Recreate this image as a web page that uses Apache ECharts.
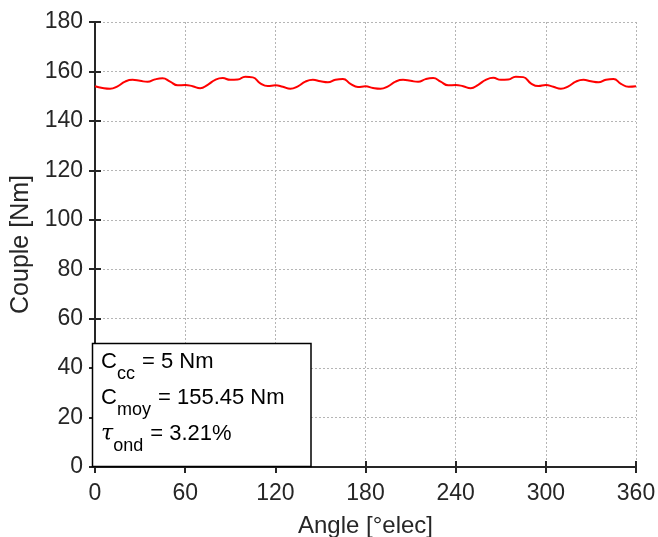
<!DOCTYPE html>
<html><head><meta charset="utf-8">
<script src="https://cdn.jsdelivr.net/npm/echarts@6/dist/echarts.min.js"></script>
<style>html,body{margin:0;padding:0;background:#fff}#c{width:658px;height:537px}</style>
</head><body><div id="c"></div>
<script>
const angles = [0,5,10,15,20,25,30,35,40,45,50,55,60,65,70,75,80,85,90,95,100,105,110,115,120,125,130,135,140,145,150,155,160,165,170,175,180,185,190,195,200,205,210,215,220,225,230,235,240,245,250,255,260,265,270,275,280,285,290,295,300,305,310,315,320,325,330,335,340,345,350,355,360];
const couple = [
  154.0,153.3,153.0,154.0,155.9,156.6,156.2,155.8,156.8,157.2,155.9,154.4,154.5,
  154.0,153.2,154.6,156.6,157.3,156.6,156.7,157.9,157.6,155.2,154.1,154.4,
  153.8,153.0,154.0,155.9,156.6,156.0,155.6,156.6,156.9,155.0,153.7,154.0,
  153.3,153.0,154.0,155.9,156.6,156.2,155.8,156.9,157.3,155.9,154.4,154.5,
  154.0,153.2,154.6,156.6,157.4,156.6,156.7,157.9,157.7,155.2,154.1,154.5,
  153.8,153.0,154.0,155.9,156.6,156.0,155.6,156.6,156.9,155.0,153.8,154.0
];
const xTicks = [0,60,120,180,240,300,360];
const yTicks = [0,20,40,60,80,100,120,140,160,180];
const xName = 'Angle [°elec]';
const yName = 'Couple [Nm]';
const annot = [
  ['C','cc',' = 5 Nm'],
  ['C','moy',' = 155.45 Nm'],
  ['τ','ond',' = 3.21%']
];

const FONT = '"Liberation Sans", Arial, Helvetica, sans-serif';
const TXT = '#262626';
const chart = echarts.init(document.getElementById('c'), null, {renderer:'canvas'});
const axisLine = {show:true, lineStyle:{color:TXT, width:2}};
const gridLine = {show:true, lineStyle:{color:'#b5b5b5', type:[2,2], width:1}};
const mkX = (pos, showLab) => ({
  type:'value', position:pos, min:xTicks[0], max:xTicks[xTicks.length-1], interval:60,
  axisLine, axisTick:{show:true, inside:true, length:6, lineStyle:{color:TXT,width:2}},
  axisLabel:{show:showLab, color:TXT, fontSize:23, fontFamily:FONT, margin:15},
  splitLine: showLab ? gridLine : {show:false},
  name: showLab ? xName : '', nameLocation:'middle', nameGap:47,
  nameTextStyle:{color:TXT, fontSize:24, fontFamily:FONT}
});
const mkY = (pos, showLab) => ({
  type:'value', position:pos, min:yTicks[0], max:yTicks[yTicks.length-1], interval:20,
  axisLine, axisTick:{show:true, inside:true, length:6, lineStyle:{color:TXT,width:2}},
  axisLabel:{show:showLab, color:TXT, fontSize:23, fontFamily:FONT, margin:12, padding:[7,0,0,0]},
  splitLine: showLab ? gridLine : {show:false},
  name: showLab ? yName : '', nameLocation:'middle', nameGap:53,
  nameTextStyle:{color:TXT, fontSize:25, fontFamily:FONT}
});

const rich = {
  m:{fontSize:22, fontFamily:FONT, color:'#000', lineHeight:22, verticalAlign:'top'},
  t:{fontSize:22, fontFamily:'"DejaVu Serif", serif', fontStyle:'italic', color:'#000', lineHeight:22, verticalAlign:'top'},
  s:{fontSize:18, fontFamily:FONT, color:'#000', lineHeight:18, verticalAlign:'top', padding:[14,1,0,0]}
};
const lineTops = [351, 387, 423];
const graphics = [{
  type:'rect', shape:{x:92.5, y:343.5, width:218.5, height:123},
  style:{fill:'#fff', stroke:'#000', lineWidth:1.5}, z:100
}];
annot.forEach((a,i)=>{
  const head = a[0]==='τ' ? '{t|τ}' : '{m|C}';
  graphics.push({type:'text', left:101, top:lineTops[i], z:101,
    style:{text: head + '{s|'+a[1]+'}{m|'+a[2]+'}', rich}});
});

chart.setOption({
  animation:false,
  grid:{left:95, right:22, top:22, bottom:70, containLabel:false, outerBoundsMode:'none'},
  xAxis:[mkX('bottom', true), mkX('top', false)],
  yAxis:[mkY('left', true), mkY('right', false)],
  series:[{
    type:'line', xAxisIndex:0, yAxisIndex:0, smooth:0.5, symbol:'none',
    lineStyle:{color:'#ff0000', width:2},
    data: angles.map((a,i)=>[a, couple[i]]), z:5
  }],
  graphic: graphics
});
</script></body></html>
